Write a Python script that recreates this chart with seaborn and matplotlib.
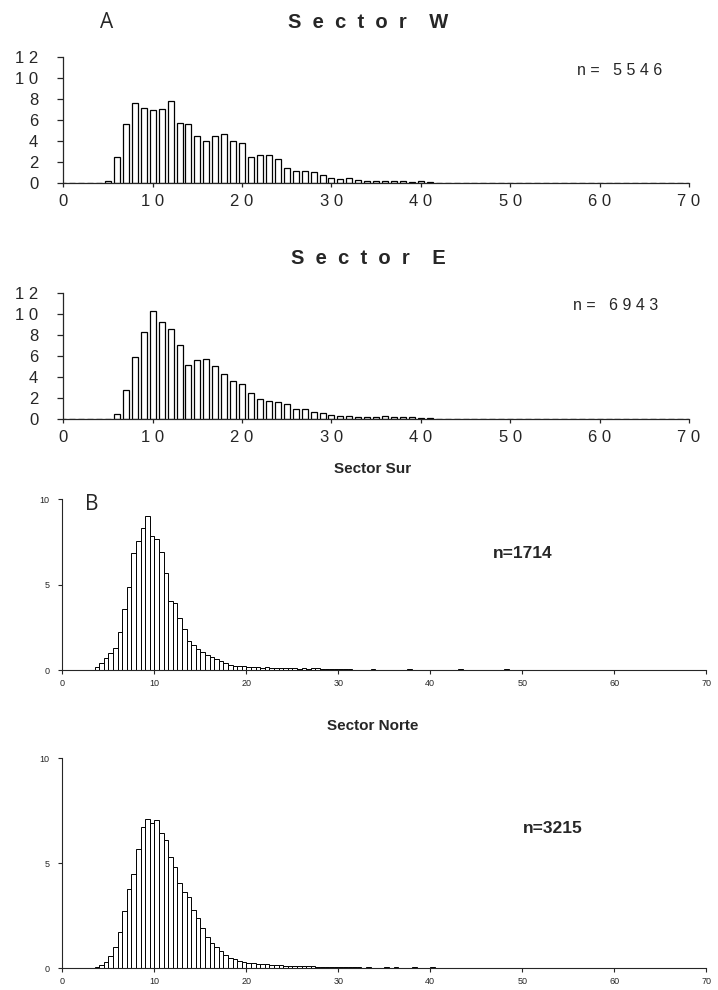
import numpy as np
import pandas as pd
import seaborn as sns
import matplotlib.pyplot as plt

# ---- Panel A: 1-unit classes (percent) ----
w_x = list(range(4, 49)) + [59, 60, 64]
w_pct = [0.08, 0.22, 2.54, 5.62, 7.68, 7.14, 6.98, 7.11, 7.84, 5.71,
         5.65, 4.51, 4.03, 4.51, 4.67, 4.06, 3.81, 2.54, 2.67, 2.70,
         2.32, 1.43, 1.17, 1.17, 1.08, 0.79, 0.48, 0.41, 0.48, 0.29,
         0.25, 0.25, 0.20, 0.20, 0.20, 0.15, 0.20, 0.10, 0.05, 0.0,
         0.05, 0.04, 0.04, 0.04, 0.03, 0.03, 0.03, 0.03]

e_x = list(range(5, 42)) + [44, 45, 47, 48, 49, 51, 52, 53, 55, 57, 66]
e_pct = [0.06, 0.50, 2.75, 5.87, 8.30, 10.23, 9.25, 8.53, 7.07, 5.18,
         5.59, 5.68, 5.02, 4.33, 3.63, 3.32, 2.53, 1.93, 1.74, 1.61,
         1.42, 0.95, 0.95, 0.73, 0.63, 0.44, 0.28, 0.28, 0.25, 0.25,
         0.25, 0.30, 0.25, 0.25, 0.20, 0.15, 0.10,
         0.03, 0.03, 0.03, 0.03, 0.03, 0.03, 0.03, 0.03, 0.03, 0.03, 0.03]

# ---- Panel B: 0.5-unit classes (percent), left edges ----
sur_x = list(np.arange(3.5, 31.5, 0.5)) + [32.5, 33.5, 35.0, 37.5, 43.0, 48.0]
sur_pct = [0.15, 0.40, 0.70, 0.98, 1.30, 2.20, 3.56, 4.84, 6.88, 7.54,
           8.34, 9.05, 7.88, 7.66, 6.92, 5.69, 4.05, 3.90, 3.02, 2.38,
           1.68, 1.48, 1.23, 1.05, 0.90, 0.78, 0.65, 0.55, 0.40, 0.32,
           0.25, 0.22, 0.25, 0.20, 0.15, 0.15, 0.12, 0.15, 0.10, 0.12,
           0.10, 0.10, 0.12, 0.10, 0.08, 0.10, 0.08, 0.12, 0.10, 0.06,
           0.06, 0.05, 0.05, 0.05, 0.04, 0.04,
           0.03, 0.04, 0.03, 0.04, 0.04, 0.04]

norte_x = list(np.arange(3.5, 32.5, 0.5)) + [33.0, 35.0, 36.0, 38.0, 40.0]
norte_pct = [0.06, 0.15, 0.30, 0.55, 1.00, 1.70, 2.73, 3.75, 4.46, 5.65,
             6.70, 7.11, 6.92, 7.05, 6.41, 6.10, 5.30, 4.83, 4.03, 3.63,
             3.40, 2.76, 2.37, 1.90, 1.50, 1.20, 1.00, 0.80, 0.62, 0.50,
             0.42, 0.35, 0.30, 0.25, 0.22, 0.20, 0.20, 0.18, 0.15, 0.15,
             0.14, 0.12, 0.12, 0.10, 0.10, 0.10, 0.08, 0.08, 0.07, 0.06,
             0.06, 0.05, 0.05, 0.05, 0.04, 0.04, 0.03, 0.03,
             0.03, 0.03, 0.03, 0.03, 0.03]

sns.set_style("ticks")
plt.rcParams['font.family'] = ['Liberation Sans', 'DejaVu Sans']

fig = plt.figure(figsize=(7.18, 9.9), dpi=100)


def spaced(s):
    return " ".join(s)


def panel_a(rect, xs, ys, title, n_txt, title_y, n_pos):
    ax = fig.add_axes(rect)
    df = pd.DataFrame({"x": [float(v) for v in xs], "pct": ys})
    sns.histplot(data=df, x="x", weights="pct", binwidth=1.0,
                 binrange=(-0.5, 70.5), shrink=0.67, color="white",
                 edgecolor="black", linewidth=0.9, alpha=1, ax=ax)
    ax.set_xlim(0, 70)
    ax.set_ylim(0, 12)
    ax.set_yticks(range(0, 13, 2))
    ax.set_yticklabels([spaced(str(v)) for v in range(0, 13, 2)], fontsize=12)
    ax.set_xticks(range(0, 71, 10))
    ax.set_xticklabels([spaced(str(v)) for v in range(0, 71, 10)], fontsize=12)
    ax.tick_params(axis="y", length=4, width=0.9, pad=14)
    ax.tick_params(axis="x", length=3, width=0.9, pad=5)
    ax.set_xlabel("")
    ax.set_ylabel("")
    sns.despine(ax=ax)
    for s in ["left", "bottom"]:
        ax.spines[s].set_linewidth(0.9)
    fig.text(0.5125, title_y, title, ha="center", va="center",
             fontsize=14.5, fontweight="bold")
    fig.text(n_pos[0], n_pos[1], n_txt, ha="center", va="center", fontsize=11.5)
    return ax


def panel_b(rect, xs, ys, title, n_txt, title_y, n_pos):
    ax = fig.add_axes(rect)
    df = pd.DataFrame({"x": [float(v) + 0.25 for v in xs], "pct": ys})
    sns.histplot(data=df, x="x", weights="pct", binwidth=0.5,
                 binrange=(0, 70), color="white", edgecolor="black",
                 linewidth=0.7, alpha=1, ax=ax)
    ax.set_xlim(0, 70)
    ax.set_ylim(0, 10)
    ax.set_yticks([0, 5, 10])
    ax.set_xticks(range(0, 71, 10))
    ax.tick_params(axis="both", labelsize=6.5, length=3, width=0.8)
    ax.tick_params(axis="y", pad=6)
    ax.set_xlabel("")
    ax.set_ylabel("")
    sns.despine(ax=ax)
    for s in ["left", "bottom"]:
        ax.spines[s].set_linewidth(0.8)
    fig.text(0.5195, title_y, title, ha="center", va="center",
             fontsize=11, fontweight="bold")
    fig.text(n_pos[0], n_pos[1], n_txt, ha="center", va="center",
             fontsize=12.5, fontweight="bold")
    return ax


panel_a([0.0882, 0.8148, 0.8714, 0.1273], w_x, w_pct,
        "S  e  c  t  o  r    W", "n =   5 5 4 6", 0.977, (0.8635, 0.929))
panel_a([0.0882, 0.5765, 0.8714, 0.1278], e_x, e_pct,
        "S  e  c  t  o  r    E", "n =   6 9 4 3", 0.7384, (0.857, 0.691))
panel_b([0.0868, 0.3232, 0.8969, 0.1724], sur_x, sur_pct,
        "Sector Sur", "n=1714", 0.5263, (0.728, 0.4414))
panel_b([0.0868, 0.0222, 0.8969, 0.2121], norte_x, norte_pct,
        "Sector Norte", "n=3215", 0.2667, (0.770, 0.1636))

fig.text(0.149, 0.977, "A", ha="center", va="center", fontsize=15,
         family=["Open Sans", "DejaVu Sans"])
fig.text(0.128, 0.49, "B", ha="center", va="center", fontsize=15,
         family=["Open Sans", "DejaVu Sans"])

fig.savefig("out.png", dpi=100)
